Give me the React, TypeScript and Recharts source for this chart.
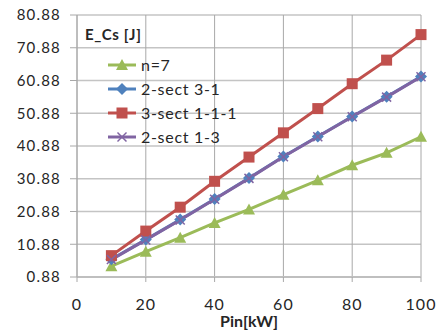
import React from "react";
import { LineChart, Line, XAxis, YAxis, CartesianGrid, Legend } from "recharts";

const pinKW = [10, 20, 30, 40, 50, 60, 70, 80, 90, 100];
const nSeven = [4.2, 8.6, 12.9, 17.4, 21.5, 26.0, 30.4, 35.0, 38.8, 43.7];
const sect31 = [6.3, 12.3, 18.4, 24.7, 31.1, 37.7, 43.8, 49.9, 55.9, 62.1];
const sect111 = [7.4, 14.9, 22.2, 30.1, 37.5, 44.9, 52.3, 59.9, 67.1, 74.9];
const sect13 = [6.2, 12.2, 18.3, 24.6, 31.0, 37.6, 43.7, 49.8, 55.8, 62.0];
const xTicks = [0, 20, 40, 60, 80, 100];
const yTicks = [0.88, 10.88, 20.88, 30.88, 40.88, 50.88, 60.88, 70.88, 80.88];
const seriesNames = ["n=7", "2-sect 3-1", "3-sect 1-1-1", "2-sect 1-3"];
const legendTitle = "E_Cs [J]";
const xLabel = "Pin[kW]";

const data = pinKW.map((p, i) => ({
  p,
  a: nSeven[i],
  b: sect31[i],
  c: sect111[i],
  d: sect13[i],
}));

const GREEN = "#9BBB59";
const BLUE = "#4F81BD";
const RED = "#C0504D";
const PURPLE = "#8064A2";
const FONT = "Lato, 'Open Sans', sans-serif";

function Marker({ kind, cx, cy, color }: { kind: string; cx: number; cy: number; color: string }) {
  if (kind === "tri")
    return <polygon points={`${cx},${cy - 6} ${cx - 6},${cy + 5} ${cx + 6},${cy + 5}`} fill={color} />;
  if (kind === "dia")
    return <polygon points={`${cx},${cy - 6} ${cx + 6},${cy} ${cx},${cy + 6} ${cx - 6},${cy}`} fill={color} />;
  if (kind === "sq") return <rect x={cx - 5.5} y={cy - 5.5} width={11} height={11} fill={color} />;
  return (
    <g stroke={color} strokeWidth={1.5}>
      <line x1={cx - 4.5} y1={cy - 4.5} x2={cx + 4.5} y2={cy + 4.5} />
      <line x1={cx - 4.5} y1={cy + 4.5} x2={cx + 4.5} y2={cy - 4.5} />
    </g>
  );
}

const kinds = ["tri", "dia", "sq", "x"];
const colors = [GREEN, BLUE, RED, PURPLE];

const makeDot = (kind: string, color: string) => (props: any) => {
  const { cx, cy, index } = props;
  if (cx == null || cy == null) return <g key={index} />;
  return (
    <g key={`${kind}-${index}`}>
      <Marker kind={kind} cx={cx} cy={cy} color={color} />
    </g>
  );
};

const renderLegend = (props: any) => {
  const payload = [...(props.payload || [])].sort(
    (x: any, y: any) => seriesNames.indexOf(x.value) - seriesNames.indexOf(y.value)
  );
  return (
    <div style={{ fontFamily: FONT, color: "#262626" }}>
      <div style={{ fontWeight: 700, fontSize: 15, letterSpacing: 0.6, height: 24, lineHeight: "24px", marginLeft: 5 }}>
        {legendTitle}
      </div>
      <div style={{ height: 7 }} />
      {payload.map((entry: any, i: number) => {
        const idx = seriesNames.indexOf(entry.value);
        return (
          <div key={i} style={{ display: "flex", alignItems: "center", height: 24, fontSize: 16, letterSpacing: 0.7 }}>
            <svg width={60} height={24} style={{ display: "block" }}>
              <line x1={28} y1={12} x2={56} y2={12} stroke={colors[idx]} strokeWidth={3} />
              <Marker kind={kinds[idx]} cx={42} cy={12} color={colors[idx]} />
            </svg>
            <span style={{ marginLeft: 1, lineHeight: "24px" }}>{entry.value}</span>
          </div>
        );
      })}
    </div>
  );
};

export default function App() {
  return (
    <div style={{ position: "absolute", left: 0, top: 0, width: 437, height: 333, background: "#fff" }}>
      <LineChart width={437} height={333} data={data} margin={{ top: 15, right: 16, left: 0, bottom: 0 }}>
        <CartesianGrid horizontal={true} vertical={false} stroke="#c4c4c4" strokeWidth={1.6} />
        <CartesianGrid horizontal={false} vertical={true} stroke="#a8a8a8" strokeWidth={1} />
        <XAxis
          dataKey="p"
          type="number"
          domain={[0, 100]}
          ticks={xTicks}
          height={56}
          tickSize={5}
          tickMargin={17}
          axisLine={{ stroke: "#bfbfbf", strokeWidth: 2 }}
          tickLine={{ stroke: "#a8a8a8" }}
          tick={{ fill: "#262626", fontSize: 16, fontFamily: FONT, letterSpacing: 1 }}
          label={{
            value: xLabel,
            position: "insideBottom",
            offset: 6,
            fill: "#262626",
            fontSize: 16,
            fontWeight: 700,
            fontFamily: FONT,
          }}
        />
        <YAxis
          type="number"
          domain={[0.88, 80.88]}
          ticks={yTicks}
          width={77}
          tickSize={7}
          tickMargin={9}
          axisLine={{ stroke: "#a8a8a8" }}
          tickLine={{ stroke: "#a8a8a8" }}
          tickFormatter={(v: number) => v.toFixed(2)}
          tick={{ fill: "#262626", fontSize: 15, fontFamily: FONT, letterSpacing: 1.2 }}
        />
        <Legend
          layout="vertical"
          align="center"
          verticalAlign="middle"
          content={renderLegend}
          wrapperStyle={{ left: 80, top: 22, width: 160 }}
        />
        <Line name={seriesNames[0]} dataKey="a" stroke={GREEN} strokeWidth={3} dot={makeDot("tri", GREEN)} isAnimationActive={false} />
        <Line name={seriesNames[1]} dataKey="b" stroke={BLUE} strokeWidth={3} dot={makeDot("dia", BLUE)} isAnimationActive={false} />
        <Line name={seriesNames[2]} dataKey="c" stroke={RED} strokeWidth={3} dot={makeDot("sq", RED)} isAnimationActive={false} />
        <Line name={seriesNames[3]} dataKey="d" stroke={PURPLE} strokeWidth={3} dot={makeDot("x", PURPLE)} isAnimationActive={false} />
      </LineChart>
    </div>
  );
}
